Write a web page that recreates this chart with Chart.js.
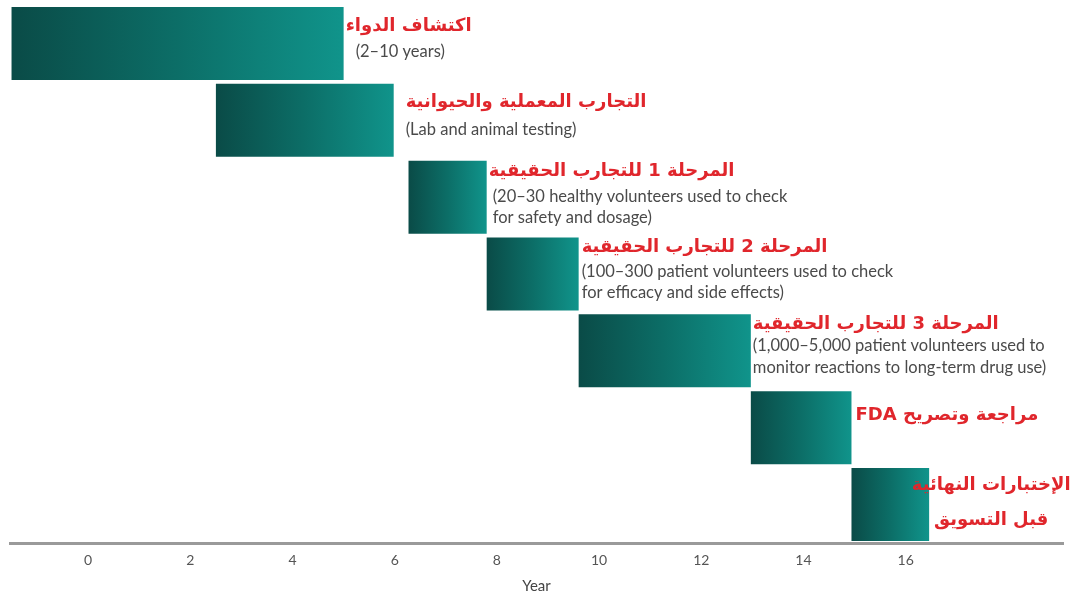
<!DOCTYPE html>
<html><head><meta charset="utf-8">
<script src="https://cdn.jsdelivr.net/npm/chart.js@4.4.1/dist/chart.umd.min.js"></script>
<style>html,body{margin:0;padding:0;background:#fff;} #wrap{width:1084px;height:595px;position:relative;}</style>
</head><body><div id="wrap"><canvas id="c"></canvas></div>
<script>
// ---- data ----
const stages = ['اكتشاف الدواء', 'التجارب المعملية والحيوانية', 'المرحلة 1 للتجارب الحقيقية', 'المرحلة 2 للتجارب الحقيقية', 'المرحلة 3 للتجارب الحقيقية', 'مراجعة وتصريح FDA', 'الإختبارات النهائية قبل التسويق'];
const titleLines = [
  ['اكتشاف الدواء'],
  ['التجارب المعملية والحيوانية'],
  ['المرحلة 1 للتجارب الحقيقية'],
  ['المرحلة 2 للتجارب الحقيقية'],
  ['المرحلة 3 للتجارب الحقيقية'],
  ['مراجعة وتصريح FDA'],
  ['الإختبارات النهائية', 'قبل التسويق']
];
const notes = [
  ['(2–10 years)'],
  ['(Lab and animal testing)'],
  ['(20–30 healthy volunteers used to check', 'for safety and dosage)'],
  ['(100–300 patient volunteers used to check', 'for efficacy and side effects)'],
  ['(1,000–5,000 patient volunteers used to', 'monitor reactions to long-term drug use)'],
  [],
  []
];
const startYear = [-1.5, 2.5, 6.27, 7.8, 9.6, 12.97, 14.94];
const endYear   = [5.0, 5.98, 7.8, 9.6, 12.97, 14.94, 16.46];
const yearTicks = [0, 2, 4, 6, 8, 10, 12, 14, 16];
const axisTitle = 'Year';

// ---- label layout (offsets from bar end / bar top) ----
const labelLayout = [
  {tdx: 2,  ndx: 12, ty: [19], ny: [45], align: 'left'},
  {tdx: 12, ndx: 12, ty: [19], ny: [46], align: 'left'},
  {tdx: 2,  ndx: 6,  ty: [11], ny: [36, 57], align: 'left'},
  {tdx: 3,  ndx: 3,  ty: [10], ny: [34, 55], align: 'left'},
  {tdx: 2,  ndx: 2,  ty: [10], ny: [31, 53], align: 'left'},
  {tdx: 4,  ndx: 4,  ty: [24], ny: [], align: 'left'},
  {tdx: 62, ndx: 62, ty: [17, 52], ny: [], align: 'center'}
];

const bars = startYear.map((s, i) => [s, endYear[i]]);

const labelPlugin = {
  id: 'stageLabels',
  afterDatasetsDraw(chart) {
    const ctx = chart.ctx;
    const meta = chart.getDatasetMeta(0);
    meta.data.forEach((el, i) => {
      const L = labelLayout[i];
      const top = el.y - el.height / 2;
      const xEnd = el.x;
      ctx.save();
      ctx.textBaseline = 'middle';
      ctx.textAlign = L.align;
      ctx.direction = 'rtl';
      ctx.fillStyle = '#e0262c';
      ctx.font = 'bold 18px "DejaVu Sans", sans-serif';
      titleLines[i].forEach((t, k) => ctx.fillText(t, xEnd + L.tdx, top + L.ty[k]));
      ctx.direction = 'ltr';
      ctx.textAlign = 'left';
      ctx.fillStyle = '#4a4a4a';
      ctx.font = '16.5px Lato, sans-serif';
      notes[i].forEach((t, k) => ctx.fillText(t, xEnd + L.ndx, top + L.ny[k]));
      ctx.restore();
    });
  }
};

new Chart(document.getElementById('c'), {
  type: 'bar',
  data: {
    labels: stages,
    datasets: [{
      data: bars,
      backgroundColor: (c) => {
        const chart = c.chart;
        const xs = chart.scales && chart.scales.x;
        if (!xs || c.type !== 'data') return '#0e7770';
        const i = c.dataIndex;
        const x0 = xs.getPixelForValue(startYear[i]);
        const x1 = xs.getPixelForValue(endYear[i]);
        if (!isFinite(x0) || !isFinite(x1) || x1 <= x0) return '#0e7770';
        const g = chart.ctx.createLinearGradient(x0, 0, x1, 0);
        g.addColorStop(0, '#0a4b47');
        g.addColorStop(0.5, '#0c6e67');
        g.addColorStop(1, '#10948b');
        return g;
      },
      borderWidth: 0,
      borderSkipped: false,
      categoryPercentage: 1.0,
      barPercentage: 0.95
    }]
  },
  options: {
    indexAxis: 'y',
    responsive: true,
    maintainAspectRatio: false,
    animation: false,
    layout: {padding: {left: 10, right: 21, top: 5, bottom: 0}},
    plugins: {legend: {display: false}, tooltip: {enabled: false}},
    scales: {
      y: {display: false, grid: {display: false}},
      x: {
        type: 'linear',
        min: -1.53,
        max: 19.08,
        afterBuildTicks: (axis) => { axis.ticks = yearTicks.map(v => ({value: v})); },
        grid: {display: false, drawTicks: false},
        border: {display: true, color: '#9a9a9a', width: 3},
        ticks: {color: '#555', font: {family: 'Lato, sans-serif', size: 14, lineHeight: 1.0}, padding: 10, autoSkip: false, maxRotation: 0},
        title: {display: true, text: axisTitle, color: '#444', font: {family: 'Lato, sans-serif', size: 15}, padding: {top: 0, bottom: 0}}
      }
    }
  },
  plugins: [labelPlugin]
});
</script>
</body></html>
